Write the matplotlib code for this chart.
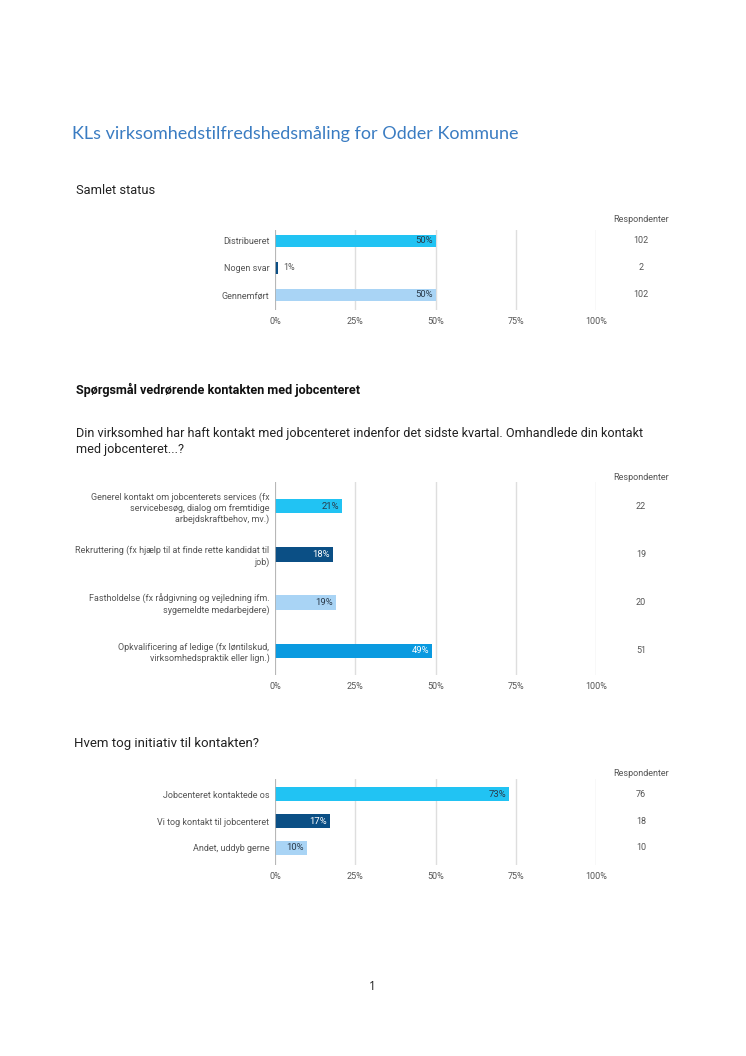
import matplotlib.pyplot as plt
import matplotlib.transforms as mtransforms

# data
status_labels = ["Distribueret", "Nogen svar", "Gennemført"]
status_pct = [50, 1, 50]
status_n = [102, 2, 102]
status_colors = ["#21c3f3", "#0b4f85", "#a9d4f5"]

kontakt_labels = ["Generel kontakt om jobcenterets services (fx\nservicebesøg, dialog om fremtidige\narbejdskraftbehov, mv.)",
                  "Rekruttering (fx hjælp til at finde rette kandidat til\njob)",
                  "Fastholdelse (fx rådgivning og vejledning ifm.\nsygemeldte medarbejdere)",
                  "Opkvalificering af ledige (fx løntilskud,\nvirksomhedspraktik eller lign.)"]
kontakt_pct = [21, 18, 19, 49]
kontakt_n = [22, 19, 20, 51]
kontakt_colors = ["#21c3f3", "#0b4f85", "#a9d4f5", "#0a9ae0"]

init_labels = ["Jobcenteret kontaktede os", "Vi tog kontakt til jobcenteret", "Andet, uddyb gerne"]
init_pct = [73, 17, 10]
init_n = [76, 18, 10]
init_colors = ["#21c3f3", "#0b4f85", "#a9d4f5"]

ticks = [0, 25, 50, 75, 100]
tick_labels = ["0%", "25%", "50%", "75%", "100%"]

W, H = 746, 1056
plt.rcParams['font.family'] = ['Roboto', 'DejaVu Sans']
fig = plt.figure(figsize=(W / 100, H / 100), dpi=100)
fig.patch.set_facecolor("white")

TXT = "#555555"
DARK_TEXT = {"#21c3f3": "#2a3a4a", "#a9d4f5": "#2a3a4a", "#0b4f85": "white", "#0a9ae0": "white"}


def px_axes(top, bottom):
    left = 275 / W
    width = (596 - 275) / W
    return [left, 1 - bottom / H, width, (bottom - top) / H]


def draw_chart(top, bottom, head_y, labels, pct, n, colors, ylim, bar_h):
    ax = fig.add_axes(px_axes(top, bottom))
    y = list(range(len(labels)))
    ax.barh(y, pct, height=bar_h, color=colors, edgecolor="none", zorder=3)
    ax.set_xlim(0, 100)
    ax.set_ylim(*ylim)
    ax.set_xticks(ticks)
    ax.set_xticklabels(tick_labels, fontsize=6.5, color=TXT)
    ax.set_yticks(y)
    ax.set_yticklabels(labels, fontsize=6.5, color=TXT, linespacing=1.25)
    ax.tick_params(length=0, pad=4)
    ax.tick_params(axis="x", pad=5)
    for s in ax.spines.values():
        s.set_visible(False)
    ax.grid(axis="x", color="#dedede", linewidth=1, zorder=0)
    ax.axvline(0, color="#b0b0b0", linewidth=1.2, zorder=4)
    for yi, p, c in zip(y, pct, colors):
        if p < 5:
            ax.text(p + 1.5, yi, f"{p}%", va="center", ha="left", fontsize=6.5, color=TXT, zorder=5)
        else:
            ax.text(p - 1.0, yi, f"{p}%", va="center", ha="right", fontsize=6.8,
                    color=DARK_TEXT[c], zorder=5)
    tr = mtransforms.blended_transform_factory(fig.transFigure, ax.transData)
    for yi, k in zip(y, n):
        ax.text(641 / W, yi, str(k), transform=tr, ha="center", va="center", fontsize=6.5, color=TXT)
    fig.text(641 / W, 1 - head_y / H, "Respondenter", ha="center", va="center", fontsize=6.5, color=TXT)
    return ax


# title
fig.text(72 / W, 1 - 134 / H, "KLs virksomhedstilfredshedsmåling for Odder Kommune",
         fontsize=13, color="#3a7cc2", family=["Lato", "DejaVu Sans"], va="center")

fig.text(76 / W, 1 - 190 / H, "Samlet status", fontsize=9.3, color="#222222", va="center")
draw_chart(230, 310, 219, status_labels, status_pct, status_n, status_colors, (2.556, -0.407), 0.48)

fig.text(76 / W, 1 - 390 / H, "Spørgsmål vedrørende kontakten med jobcenteret", fontsize=9.1,
         color="#111111", weight="bold", va="center")
fig.text(76 / W, 1 - 441 / H,
         "Din virksomhed har haft kontakt med jobcenteret indenfor det sidste kvartal. Omhandlede din kontakt\nmed jobcenteret...?",
         fontsize=9.1, color="#222222", va="center", linespacing=1.3)
draw_chart(482, 675, 477, kontakt_labels, kontakt_pct, kontakt_n, kontakt_colors, (3.5, -0.5), 0.3)

fig.text(74 / W, 1 - 744 / H, "Hvem tog initiativ til kontakten?", fontsize=9.5, color="#222222", va="center")
draw_chart(779, 865, 773, init_labels, init_pct, init_n, init_colors, (2.63, -0.556), 0.5)

fig.text(372 / W, 1 - 987 / H, "1", fontsize=8.5, color="#222222", ha="center", va="center",
         family=["Open Sans", "DejaVu Sans"])

fig.savefig("out.png", dpi=100, facecolor="white")
